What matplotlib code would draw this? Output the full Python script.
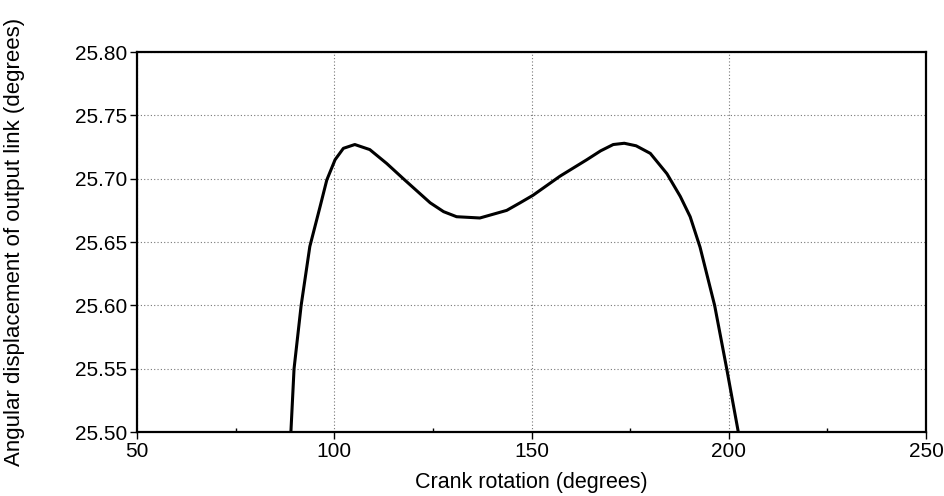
import matplotlib.pyplot as plt
from matplotlib.ticker import MultipleLocator

# values
crank = [89.0, 89.8, 91.6, 93.8, 96.4, 98.1, 100.2, 102.3, 105.2, 109.0,
         113.3, 117.5, 124.3, 127.7, 131.0, 136.9, 143.7, 147.1, 150.4, 157.2,
         164.0, 167.5, 170.7, 173.5, 176.5, 180.1, 184.3, 187.7, 190.2, 192.7,
         196.4, 199.4, 202.4]
angle = [25.500, 25.550, 25.600, 25.6465, 25.678, 25.699, 25.715, 25.724, 25.727, 25.723,
         25.712, 25.700, 25.681, 25.674, 25.670, 25.669, 25.675, 25.681, 25.687, 25.702,
         25.715, 25.722, 25.727, 25.728, 25.726, 25.720, 25.704, 25.686, 25.670, 25.646,
         25.600, 25.551, 25.500]

x_ticks = [50, 100, 150, 200, 250]
y_ticks = [25.50, 25.55, 25.60, 25.65, 25.70, 25.75, 25.80]

plt.rcParams['font.family'] = ['Liberation Sans', 'DejaVu Sans']

fig = plt.figure(figsize=(9.45, 4.96), dpi=100)
ax = fig.add_axes([0.145, 0.129, 0.835, 0.766])

ax.plot(crank, angle, color='black', linewidth=2.2, solid_joinstyle='round')

ax.set_xlim(50, 250)
ax.set_ylim(25.50, 25.80)
ax.set_xticks(x_ticks)
ax.set_yticks(y_ticks)
ax.set_yticklabels(['%.2f' % v for v in y_ticks])
ax.xaxis.set_minor_locator(MultipleLocator(25))
ax.tick_params(which='major', direction='out', length=5, width=1, labelsize=15, pad=2)
ax.tick_params(which='minor', axis='x', direction='in', length=3, width=1)

ax.grid(True, which='major', color='#777777', linestyle=(0, (1, 2)), linewidth=0.8)
for s in ax.spines.values():
    s.set_linewidth(1.6)

ax.set_xlabel('Crank rotation (degrees)', fontsize=15.5, labelpad=8)
ax.set_ylabel('Angular displacement of output link (degrees)', fontsize=16, labelpad=36)

fig.savefig('out.png', dpi=100)
